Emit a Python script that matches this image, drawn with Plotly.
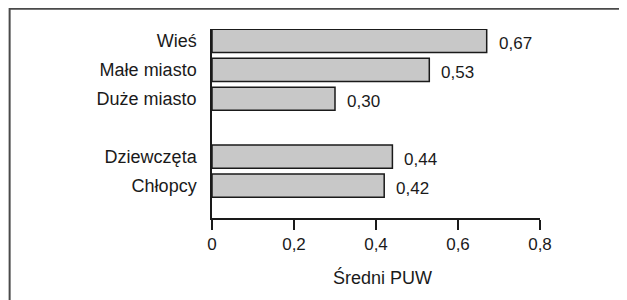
import plotly.graph_objects as go

categories = ["Wieś", "Małe miasto", "Duże miasto", " ", "Dziewczęta", "Chłopcy"]
values = [0.67, 0.53, 0.30, None, 0.44, 0.42]
x_ticks = [0, 0.2, 0.4, 0.6, 0.8]
x_tick_labels = ["0", "0,2", "0,4", "0,6", "0,8"]
x_title = "Średni PUW"

FONT = "Liberation Sans, Arial, Helvetica, sans-serif"
INK = "#1a1a1a"

fig = go.Figure()
fig.add_trace(go.Bar(
    x=values, y=categories, orientation="h",
    width=0.8,
    marker=dict(color="#c8c8c8", line=dict(color=INK, width=1.5)),
    hoverinfo="skip",
))

for c, v in zip(categories, values):
    if v is None:
        continue
    fig.add_annotation(
        x=v, y=c, text=f"{v:.2f}".replace(".", ","),
        xanchor="left", yanchor="middle", xshift=10, yshift=-3,
        showarrow=False, font=dict(family=FONT, size=17, color=INK),
    )

# axis title
fig.add_annotation(
    x=0.5, y=-0.315, xref="paper", yref="paper", text=x_title,
    xanchor="center", yanchor="middle", xshift=6, showarrow=False,
    font=dict(family=FONT, size=18, color=INK),
)

# outer frame (only top and left edges visible in the picture)
fig.add_shape(type="rect", xref="paper", yref="paper",
              x0=-0.617, x1=1.5, y0=-0.6, y1=1.107,
              line=dict(color="#4a4a4a", width=2), layer="below")

fig.update_layout(
    width=619, height=292,
    margin=dict(l=203.5, r=87, t=21, b=82),
    paper_bgcolor="white", plot_bgcolor="white",
    showlegend=False,
    font=dict(family=FONT, size=17, color=INK),
    xaxis=dict(
        range=[0, 0.8], tickvals=x_ticks, ticktext=x_tick_labels,
        showgrid=False, zeroline=False, showline=True, linecolor=INK, linewidth=1.5,
        ticks="outside", ticklen=10, tickwidth=1.5, tickcolor=INK,
        tickfont=dict(size=17),
    ),
    yaxis=dict(
        type="category", categoryorder="array", categoryarray=categories,
        range=[6.12, -0.41],
        showgrid=False, zeroline=False, showline=True, linecolor=INK, linewidth=1.5,
        ticks="", ticklabelstandoff=10,
        tickfont=dict(size=18),
    ),
)

fig.write_html("out.html")
